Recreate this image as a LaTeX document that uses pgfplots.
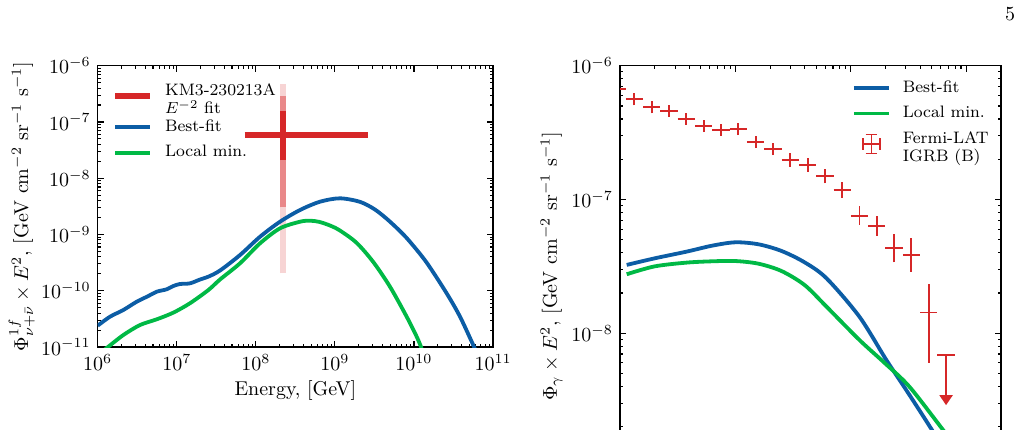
\documentclass[border=0pt]{standalone}
\usepackage{pgfplots}
\pgfplotsset{compat=1.18}
\usetikzlibrary{arrows.meta}

\definecolor{kmred}{RGB}{214,39,40}
\definecolor{fitblue}{HTML}{0C5DA5}
\definecolor{mingreen}{HTML}{00B945}

% legend text size
\newcommand{\lgd}{\fontsize{8.3}{8.3}\selectfont}

% line samples in the legends
\pgfplotsset{legend image code/.code={\draw[#1] (0pt,0pt) -- (17.5pt,0pt);}}

\pgfplotsset{every axis/.append style={
    scale only axis,
    tick align=inside, tick pos=both,
    major tick length=3pt, minor tick length=1.7pt,
    every tick/.style={black, line width=0.55pt},
    axis line style={line width=0.75pt},
    legend cell align=left,
    legend style={draw=none, fill=none, inner sep=0pt, row sep=2pt,
      column sep=6pt, font=\lgd,
      nodes={inner xsep=0pt, inner ysep=1.8pt}},
}}

\begin{document}
\begin{tikzpicture}
\useasboundingbox (0,0) rectangle (511pt,-214.5pt);
\clip (0,0) rectangle (511pt,-214.5pt);

\node[anchor=base east, inner sep=0pt] at (507.8pt,-10pt) {5};

% ---------------- neutrino flux ----------------
\begin{loglogaxis}[
  at={(48.85pt,-32.85pt)}, anchor=north west,
  width=197.65pt, height=140.65pt,
  xmin=1e6, xmax=1e11, ymin=1e-11, ymax=1e-6,
  xtick={1e6,1e7,1e8,1e9,1e10,1e11},
  ytick={1e-11,1e-10,1e-9,1e-8,1e-7,1e-6},
  xlabel={Energy, [GeV]},
  ylabel={$\Phi^{1f}_{\nu+\bar{\nu}}\times E^2$, [GeV cm$^{-2}$ sr$^{-1}$ s$^{-1}$]},
  xlabel style={at={(axis description cs:0.5,0)}, anchor=center, yshift=-21.5pt},
  ylabel style={at={(axis description cs:-0.1923,0.5)}, anchor=center},
  legend style={at={(axis description cs:0,1)}, anchor=north west,
    xshift=7pt, yshift=-7pt},
]
% KM3-230213A: 3, 2 and 1 sigma flux ranges
\addplot[kmred!20, line width=2.7pt, forget plot] coordinates {(2.2e8,2.04e-10) (2.2e8,4.66e-7)};
\addplot[kmred!55, line width=2.7pt, forget plot] coordinates {(2.2e8,3.04e-9) (2.2e8,2.89e-7)};
\addplot[kmred, line width=2.7pt, forget plot] coordinates {(2.2e8,2.1e-8) (2.2e8,1.57e-7)};
\addplot[kmred, line width=3pt] coordinates {(7.2e7,5.8e-8) (2.6e9,5.8e-8)};
\addlegendentry{\lgd\begin{tabular}{@{}l@{}}KM3-230213A\\$E^{-2}$ fit\end{tabular}}

\addplot[fitblue, line width=1.9pt, smooth] coordinates {
 (1e6,2.399e-11) (1.432e6,3.459e-11) (2.109e6,4.550e-11) (3.112e6,6.383e-11)
 (4.365e6,8.054e-11) (5.572e6,9.616e-11) (7.464e6,1.062e-10) (9.036e6,1.213e-10)
 (1.099e7,1.318e-10) (1.469e7,1.355e-10) (1.968e7,1.585e-10) (2.506e7,1.778e-10)
 (3.524e7,2.291e-10) (6.310e7,4.315e-10) (1.130e8,9.120e-10) (2.023e8,1.687e-9)
 (3.622e8,2.723e-9) (6.486e8,3.828e-9) (1.161e9,4.395e-9) (2.080e9,3.802e-9)
 (3.162e9,2.818e-9) (4.519e9,1.905e-9) (6.668e9,1.148e-9) (8.913e9,7.413e-10)
 (1.449e10,3.162e-10) (2.594e10,8.995e-11) (3.828e10,3.459e-11)
 (5.623e10,1.084e-11) (6.026e10,8.7e-12)};
\addlegendentry{\lgd Best-fit}

\addplot[mingreen, line width=1.9pt, smooth] coordinates {
 (1.202e6,8.83e-12) (1.361e6,1.012e-11) (2.109e6,1.633e-11) (3.428e6,2.460e-11)
 (5.572e6,3.105e-11) (9.036e6,4.083e-11) (1.469e7,5.998e-11) (2.506e7,1.028e-10)
 (3.524e7,1.585e-10) (6.310e7,3.076e-10) (1.130e8,6.966e-10) (2.023e8,1.288e-9)
 (3.622e8,1.687e-9) (4.842e8,1.758e-9) (6.310e8,1.679e-9) (8.670e8,1.445e-9)
 (1.161e9,1.175e-9) (1.888e9,7.079e-10) (3.062e9,3.236e-10) (4.977e9,1.180e-10)
 (8.091e9,3.459e-11) (1.084e10,1.524e-11) (1.230e10,1.0e-11) (1.28e10,8.5e-12)};
\addlegendentry{\lgd Local min.}
\end{loglogaxis}

% ---------------- gamma-ray flux ----------------
\begin{loglogaxis}[
  at={(310pt,-32.85pt)}, anchor=north west,
  width=190.5pt, height=200.65pt,
  xmin=1, xmax=2000, ymin=1e-9, ymax=1e-6,
  xtick={1,10,100,1000}, xticklabels={},
  ytick={1e-9,1e-8,1e-7,1e-6},
  yticklabels={{},$10^{-8}$,$10^{-7}$,$10^{-6}$},
  ylabel={$\Phi_{\gamma}\times E^2$, [GeV cm$^{-2}$ sr$^{-1}$ s$^{-1}$]},
  ylabel style={at={(axis description cs:-0.1795,0.5)}, anchor=center},
  legend style={at={(axis description cs:0.608,1)}, anchor=north west,
    yshift=-5.3pt},
]
\addplot[fitblue, line width=1.9pt, smooth] coordinates {
 (1.143,3.243e-8) (1.995,3.631e-8) (3.767,4.074e-8) (6.310,4.519e-8)
 (10.0,4.786e-8) (15.85,4.624e-8) (25.12,4.121e-8) (39.81,3.388e-8)
 (61.52,2.576e-8) (118.6,1.330e-8) (203.2,6.310e-9) (321.4,3.467e-9)
 (497.7,1.928e-9) (794.3,1.0e-9)};
\addlegendentry{\lgd Best-fit}

\addplot[mingreen, line width=1.9pt, smooth] coordinates {
 (1.143,2.761e-8) (1.995,3.162e-8) (3.767,3.373e-8) (6.310,3.451e-8)
 (10.0,3.467e-8) (15.85,3.311e-8) (25.12,2.917e-8) (39.81,2.291e-8)
 (61.52,1.581e-8) (118.6,8.913e-9) (195.0,6.026e-9) (321.4,3.990e-9)
 (619.4,1.928e-9) (1000,1.122e-9)};
\addlegendentry{\lgd Local min.}

% Fermi-LAT IGRB (model B): for each energy bin, the bin width at the
% measured flux and the flux uncertainty at the bin centre
\addplot[kmred, line width=0.95pt, unbounded coords=jump, forget plot] table {
x       y
0.7943  6.67e-7
1.1220  6.67e-7
nan     nan
0.9441  6.014e-7
0.9441  7.398e-7
nan     nan
1.1220  5.61e-7
1.5849  5.61e-7
nan     nan
1.3335  5.058e-7
1.3335  6.223e-7
nan     nan
1.5849  4.89e-7
2.2387  4.89e-7
nan     nan
1.8836  4.409e-7
1.8836  5.424e-7
nan     nan
2.2387  4.61e-7
3.1623  4.61e-7
nan     nan
2.6607  4.156e-7
2.6607  5.113e-7
nan     nan
3.1623  4.00e-7
4.4668  4.00e-7
nan     nan
3.7584  3.606e-7
3.7584  4.437e-7
nan     nan
4.4668  3.54e-7
6.3096  3.54e-7
nan     nan
5.3088  3.192e-7
5.3088  3.927e-7
nan     nan
6.3096  3.31e-7
8.9125  3.31e-7
nan     nan
7.4989  2.984e-7
7.4989  3.671e-7
nan     nan
8.9125  3.36e-7
12.589  3.36e-7
nan     nan
10.593  3.029e-7
10.593  3.727e-7
nan     nan
12.589  2.68e-7
17.783  2.68e-7
nan     nan
14.962  2.416e-7
14.962  2.973e-7
nan     nan
17.783  2.38e-7
25.119  2.38e-7
nan     nan
21.135  2.146e-7
21.135  2.640e-7
nan     nan
25.119  1.97e-7
35.481  1.97e-7
nan     nan
29.854  1.756e-7
29.854  2.210e-7
nan     nan
35.481  1.81e-7
50.119  1.81e-7
nan     nan
42.170  1.613e-7
42.170  2.031e-7
nan     nan
50.119  1.50e-7
70.795  1.50e-7
nan     nan
59.566  1.322e-7
59.566  1.703e-7
nan     nan
70.795  1.18e-7
100.00  1.18e-7
nan     nan
84.140  1.028e-7
84.140  1.355e-7
nan     nan
100.00  7.57e-8
141.25  7.57e-8
nan     nan
118.85  6.46e-8
118.85  8.87e-8
nan     nan
141.25  6.37e-8
199.53  6.37e-8
nan     nan
167.88  5.36e-8
167.88  7.57e-8
nan     nan
199.53  4.32e-8
281.84  4.32e-8
nan     nan
237.14  3.392e-8
237.14  5.50e-8
nan     nan
281.84  3.85e-8
398.11  3.85e-8
nan     nan
334.97  2.874e-8
334.97  5.16e-8
nan     nan
398.11  1.43e-8
562.34  1.43e-8
nan     nan
473.15  6.0e-9
473.15  2.33e-8
nan     nan
562.34  6.89e-9
794.33  6.89e-9
};

% last bin: upper limit
\addplot[kmred, line width=0.95pt, forget plot,
  -{Triangle[width=6.5pt,length=5pt]}]
  coordinates {(668.34,6.89e-9) (668.34,2.9e-9)};

\addlegendimage{legend image code/.code={
  \draw[kmred, line width=0.95pt]
    (8.75pt,-4.75pt) -- (8.75pt,4.75pt)
    (4.35pt,0pt) -- (13.15pt,0pt)
    (4.35pt,-2.9pt) -- (4.35pt,2.9pt)
    (13.15pt,-2.9pt) -- (13.15pt,2.9pt)
    (5.85pt,4.75pt) -- (11.65pt,4.75pt)
    (5.85pt,-4.75pt) -- (11.65pt,-4.75pt);}}
\addlegendentry{\lgd\begin{tabular}{@{}l@{}}Fermi-LAT\\IGRB (B)\end{tabular}}
\end{loglogaxis}
\end{tikzpicture}
\end{document}
